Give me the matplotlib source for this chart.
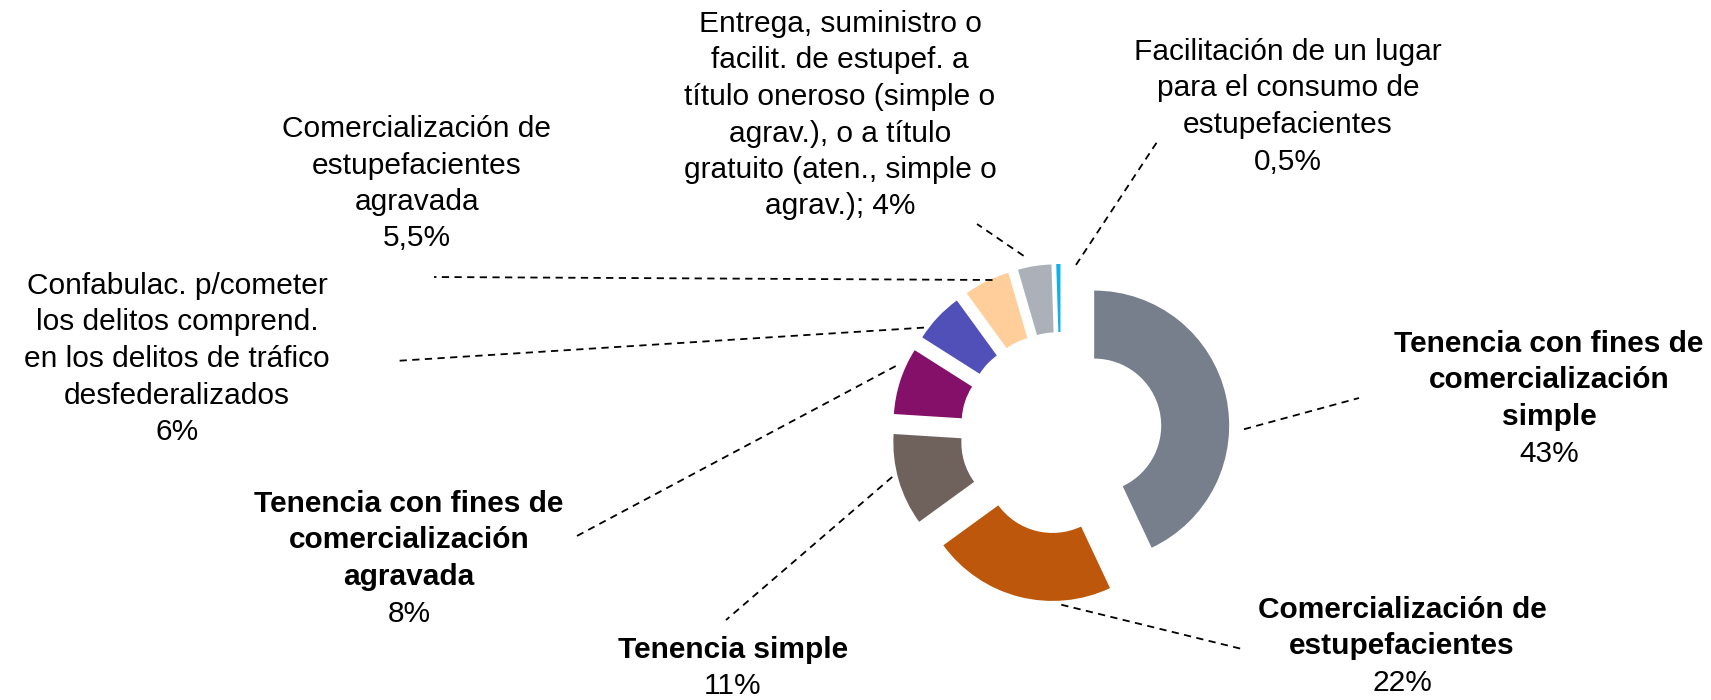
import numpy as np
import matplotlib.pyplot as plt

plt.rcParams['font.family'] = ['Liberation Sans', 'DejaVu Sans']

# ===== datos =====
categorias = [
    "Tenencia con fines de\ncomercialización\nsimple",
    "Comercialización de\nestupefacientes",
    "Tenencia simple",
    "Tenencia con fines de\ncomercialización\nagravada",
    "Confabulac. p/cometer\nlos delitos comprend.\nen los delitos de tráfico\ndesfederalizados",
    "Comercialización de\nestupefacientes\nagravada",
    "Entrega, suministro o\nfacilit. de estupef. a\ntítulo oneroso (simple o\nagrav.), o a título\ngratuito (aten., simple o\nagrav.);",
    "Facilitación de un lugar\npara el consumo de\nestupefacientes",
]
porcentajes = [43, 22, 11, 8, 6, 5.5, 4, 0.5]
etiquetas_pct = ["43%", "22%", "11%", "8%", "6%", "5,5%", "4%", "0,5%"]
negrita = [True, True, True, True, False, False, False, False]
pct_en_linea = [False, False, False, False, False, False, True, False]

colores = ["#767f8b", "#bc570b", "#6f625d", "#85106a",
           "#5050b8", "#ffce9a", "#acb0b8", "#10b0e8"]

# ===== layout (pixeles, y hacia arriba) =====
W_PX, H_PX = 1711, 700
CX, CY = 1061, H_PX - 433
R, ANCHO, EXPL = 135, 68, 34
INTERLINEA = 36.5
FS = 21.5

# centro x del texto, y de la primera linea (y hacia abajo)
pos_texto = [(1549, 344), (1402, 610), (733, 650), (409, 504),
             (177, 286), (417, 129), (840, 24), (1288, 52)]
# fin de la linea guia (y hacia abajo)
fin_guia = [(1359, 398), (1242, 649), (726, 620), (575, 537),
            (395, 361), (434, 277), (977, 224), (1159, 139)]
# desplazamiento angular y factor de radio del inicio de la guia
ini_guia = [(-14, 1.11), (18, 1.03), (-2, 1.04), (-5, 1.07),
            (7, 1.03), (-2.5, 0.99), (3.6, 1.09), (-7.5, 1.0)]

fig = plt.figure(figsize=(W_PX / 100, H_PX / 100), dpi=100)
ax = fig.add_axes([0, 0, 1, 1])
wedges, _ = ax.pie(porcentajes, colors=colores, startangle=90, counterclock=False,
                   radius=R, center=(CX, CY), explode=[EXPL] * len(porcentajes),
                   wedgeprops=dict(width=ANCHO, linewidth=0))
ax.set_xlim(0, W_PX)
ax.set_ylim(0, H_PX)
ax.set_aspect('equal')
ax.axis('off')

for i, w in enumerate(wedges):
    mid = 0.5 * (w.theta1 + w.theta2) + ini_guia[i][0]
    rr = w.r * ini_guia[i][1]
    x0 = w.center[0] + rr * np.cos(np.radians(mid))
    y0 = w.center[1] + rr * np.sin(np.radians(mid))
    x1, y1 = fin_guia[i][0], H_PX - fin_guia[i][1]
    ax.plot([x0, x1], [y0, y1], color="black", lw=1.3, ls=(0, (4, 3)))

    lineas = categorias[i].split("\n")
    if pct_en_linea[i]:
        lineas[-1] = lineas[-1] + " " + etiquetas_pct[i]
    tx, ty = pos_texto[i]
    for k, ln in enumerate(lineas):
        ax.text(tx, H_PX - (ty + k * INTERLINEA), ln, ha="center", va="center",
                fontsize=FS, fontweight="bold" if negrita[i] else "normal")
    if not pct_en_linea[i]:
        ax.text(tx, H_PX - (ty + len(lineas) * INTERLINEA), etiquetas_pct[i],
                ha="center", va="center", fontsize=FS)

fig.savefig("out.png", dpi=100)
